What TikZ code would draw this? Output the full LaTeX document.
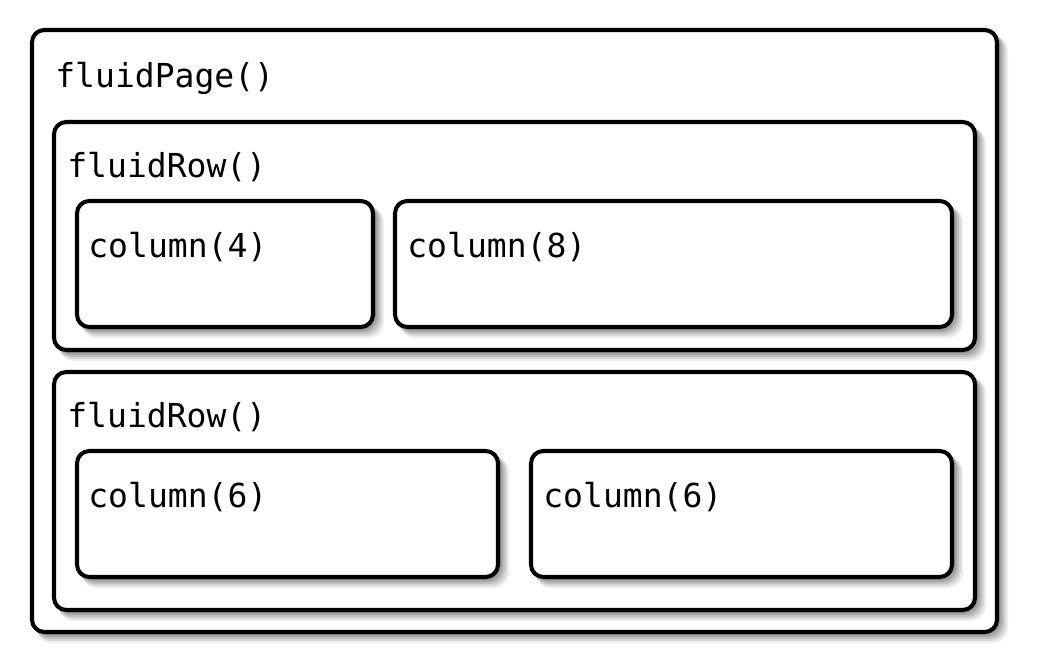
\documentclass[tikz,border=0pt]{standalone}
\usepackage{fontspec}
\setmonofont{DejaVu Sans Mono}
\begin{document}
\begin{tikzpicture}[x=0.02cm,y=-0.02cm,
  box/.style={draw=black,line width=2.3pt,rounded corners=7pt,fill=white},
  shade/.style={fill=black,rounded corners=9pt,opacity=#1},
  lbl/.style={anchor=base west,inner sep=0pt,font=\ttfamily\fontsize{18.8pt}{22pt}\selectfont}]
\def\mybox#1#2#3#4{%
  \foreach \d/\o in {11/0.07,9/0.09,7/0.11,5/0.13,3/0.15}{
    \fill[shade=\o] (#1+\d*0.4,#2+\d*0.5) rectangle (#3+\d,#4+\d);
  }
  \path[box] (#1,#2) rectangle (#3,#4);}
\useasboundingbox[fill=white] (0,0) rectangle (1046,668);
\mybox{32}{30}{997}{632}
\node[lbl] (tpage) at (55,88) {fluidPage()};
\mybox{54}{122}{975}{350}
\node[lbl] (trow1) at (67,178) {fluidRow()};
\mybox{77}{201}{373}{327}
\node[lbl] (tc4) at (88,258) {column(4)};
\mybox{395}{201}{952}{327}
\node[lbl] (tc8) at (407,258) {column(8)};
\mybox{54}{372}{975}{610}
\node[lbl] (trow2) at (67,428) {fluidRow()};
\mybox{77}{451}{498}{577}
\node[lbl] (tc6a) at (88,508) {column(6)};
\mybox{531}{451}{952}{577}
\node[lbl] (tc6b) at (543,508) {column(6)};
\end{tikzpicture}
\end{document}
